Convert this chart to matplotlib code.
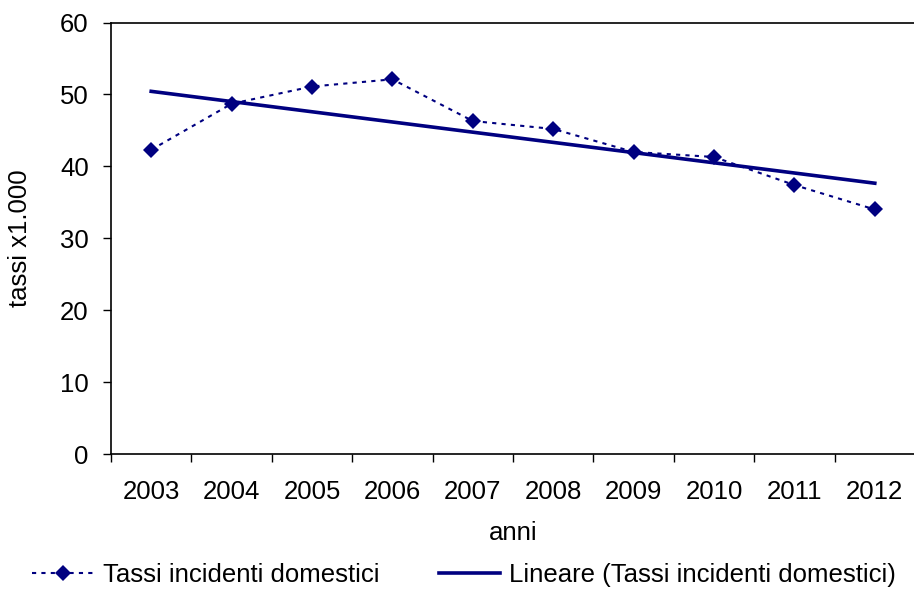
import numpy as np
import matplotlib
matplotlib.use("Agg")
import matplotlib.pyplot as plt

plt.rcParams['font.family'] = ['Liberation Sans', 'DejaVu Sans']

anni = ['2003', '2004', '2005', '2006', '2007', '2008', '2009', '2010', '2011', '2012']
tassi = [42.3, 48.7, 51.1, 52.1, 46.3, 45.2, 42.0, 41.3, 37.4, 34.0]
y_ticks = [0, 10, 20, 30, 40, 50, 60]

navy = '#000080'
fs = 18.5

fig = plt.figure(figsize=(9.14, 5.89), dpi=100)
ax = fig.add_axes([111 / 914, 1 - 454 / 589, 804 / 914, (454 - 22.5) / 589])

x = np.arange(1, len(anni) + 1)
ax.plot(x, tassi, color=navy, lw=1.5, linestyle=(0, (2, 2.5)),
        marker='D', markersize=8.5, markeredgewidth=0,
        label='Tassi incidenti domestici')

# linear trendline (Excel "Lineare")
coef = np.polyfit(x, tassi, 1)
ax.plot(x, np.polyval(coef, x), color=navy, lw=2.6,
        label='Lineare (Tassi incidenti domestici)')

ax.set_xlim(0.5, len(anni) + 0.5)
ax.set_ylim(0, 60)
ax.set_yticks(y_ticks)
ax.set_yticklabels([str(v) for v in y_ticks], fontsize=fs)

ax.set_xticks(np.arange(0.5, len(anni) + 1, 1))
ax.set_xticklabels([])
ax.set_xticks(x, minor=True)
ax.set_xticklabels(anni, minor=True, fontsize=fs)
ax.tick_params(axis='x', which='minor', length=0, pad=19)
ax.tick_params(axis='x', which='major', length=6, width=1)
ax.tick_params(axis='y', length=6, width=1, pad=10)

for s in ['left', 'bottom', 'top']:
    ax.spines[s].set_linewidth(1.2)
ax.spines['right'].set_visible(False)

ax.set_xlabel('anni', fontsize=fs, labelpad=12)
ax.set_ylabel('tassi x1.000', fontsize=fs, labelpad=20)

fig.legend(loc='lower center', ncol=2, frameon=False, fontsize=fs,
           bbox_to_anchor=(0.508, -0.036), handlelength=2.4, handletextpad=0.35,
           columnspacing=2.3)

fig.savefig('out.png', dpi=100)
